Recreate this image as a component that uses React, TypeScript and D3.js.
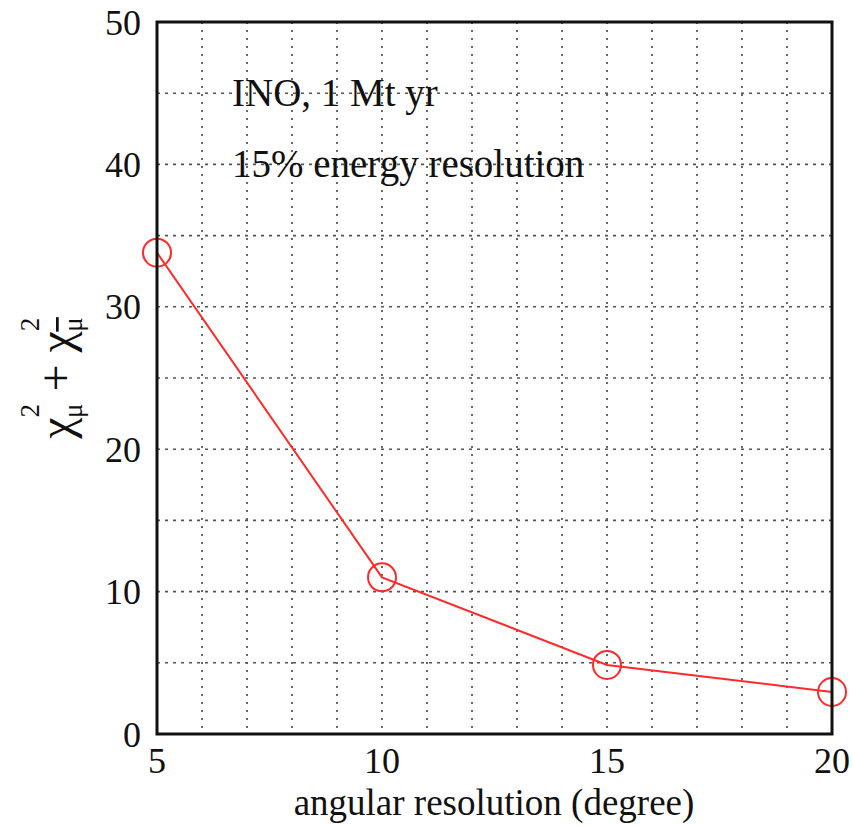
import React from "react";
import * as d3 from "d3";

const angles = [5, 10, 15, 20];
const chi2 = [33.8, 11.0, 4.85, 2.95];
const xTicks = [5, 10, 15, 20];
const yTicks = [0, 10, 20, 30, 40, 50];
const xGrid = d3.range(6, 20);
const yGrid = [5, 10, 15, 20, 25, 30, 35, 40, 45];
const notes = ["INO, 1 Mt yr", "15% energy resolution"];

export default function App() {
  const W = 853, H = 826;
  const left = 157, right = 832, top = 22, bottom = 734;
  const x = d3.scaleLinear().domain([5, 20]).range([left, right]);
  const y = d3.scaleLinear().domain([0, 50]).range([bottom, top]);
  const line = d3.line<number>().x((_, i) => x(angles[i])).y((d) => y(d));
  const font = "'Liberation Serif', 'Times New Roman', serif";
  return (
    <svg width={W} height={H} style={{ position: "absolute", left: 0, top: 0 }} fontFamily={font}>
      <rect width={W} height={H} fill="white" />
      {xGrid.map((g) => (
        <line key={"vx" + g} x1={x(g)} x2={x(g)} y1={top} y2={bottom} stroke="#444" strokeWidth={1.6} strokeDasharray="2,6" />
      ))}
      {yGrid.map((g) => (
        <line key={"hy" + g} x1={left} x2={right} y1={y(g)} y2={y(g)} stroke="#555" strokeWidth={1.6} strokeDasharray="3,5" />
      ))}
      <path d={line(chi2) || ""} fill="none" stroke="#ff2a2a" strokeWidth={2} />
      {chi2.map((v, i) => (
        <circle key={i} cx={x(angles[i])} cy={y(v)} r={14} fill="none" stroke="#ff2a2a" strokeWidth={2} />
      ))}
      <rect x={left} y={top} width={right - left} height={bottom - top} fill="none" stroke="#111" strokeWidth={3} />
      {yTicks.map((t) => (
        <text key={"yt" + t} x={141} y={y(t)} dy="0.35em" textAnchor="end" fontSize={36} fill="#111">{t}</text>
      ))}
      {xTicks.map((t) => (
        <text key={"xt" + t} x={x(t)} y={773} textAnchor="middle" fontSize={36} fill="#111">{t}</text>
      ))}
      <text x={494} y={815} textAnchor="middle" fontSize={37} fill="#111">angular resolution (degree)</text>
      {notes.map((n, i) => (
        <text key={n} x={232} y={106 + i * 71} fontSize={39} fill="#111">{n}</text>
      ))}
      <g transform={`translate(72,${(top + bottom) / 2}) rotate(-90)`}>
        <text textAnchor="middle" fontSize={48} fill="#111">
          <tspan>χ</tspan>
          <tspan fontSize={27} dy={-33}>2</tspan>
          <tspan fontSize={27} dx={-14} dy={43}>μ</tspan>
          <tspan dy={-10}> + χ</tspan>
          <tspan fontSize={27} dy={-33}>2</tspan>
          <tspan fontSize={27} dx={-14} dy={43} textDecoration="overline">μ</tspan>
        </text>
      </g>
    </svg>
  );
}
